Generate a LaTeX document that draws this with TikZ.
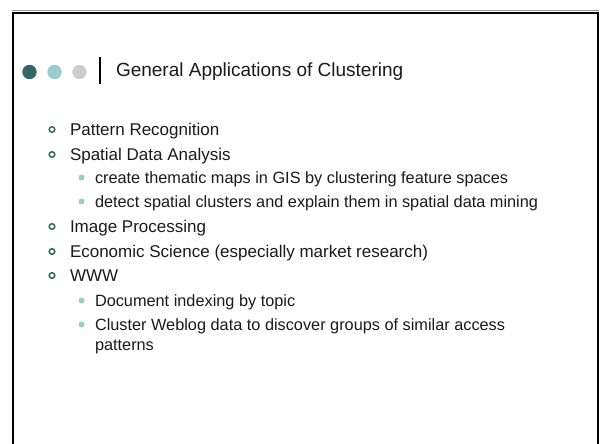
\documentclass[tikz,border=0pt]{standalone}
\usepackage{fontspec}
\setmainfont{Liberation Sans}
\definecolor{darkteal}{HTML}{336666}
\definecolor{lightteal}{HTML}{99CCCC}
\definecolor{lightgray2}{HTML}{CCCCCC}
\definecolor{framegray}{HTML}{999999}
\definecolor{bodytext}{HTML}{1A1A1A}
\begin{document}
\begin{tikzpicture}[x=1pt,y=-1pt,
  txt/.style={anchor=base west,inner sep=0pt,outer sep=0pt,text=bodytext},
  lvlone/.style={txt,font=\fontsize{17}{20}\selectfont},
  lvltwo/.style={txt,font=\fontsize{16.3}{20}\selectfont,align=left},
  hollowbullet/.style={draw=darkteal,line width=1.5pt,fill=none},
  fillbullet/.style={fill=lightteal,draw=none}]
\useasboundingbox (0,0) rectangle (602,444);
% frame
\draw[framegray,line width=1pt] (12,11) -- (599,11);
\draw[black,line width=2.5pt] (13,444) -- (13,13.2) -- (598,13.2) -- (598,444);
% title dots and bar
\fill[darkteal] (29.5,72) circle (7.2);
\fill[lightteal] (54.5,72) circle (7.2);
\fill[lightgray2] (79.5,72) circle (7.2);
\draw[black,line width=2pt] (100,57) -- (100,84);
\node[txt,font=\fontsize{19}{22}\selectfont] (title) at (116,77) {General Applications of Clustering};
% level one items
\foreach \name/\yy/\t in {pr/135/Pattern Recognition,sda/160/Spatial Data Analysis,ip/232/Image Processing,es/257/Economic Science (especially market research),www/281/WWW}{
  \draw[hollowbullet] (52,\yy-5.5) circle (2.8);
  \node[lvlone] (\name) at (70,\yy) {\t};
}
% level two items
\foreach \name/\yy/\t in {cm/183/create thematic maps in GIS by clustering feature spaces,dc/207/detect spatial clusters and explain them in spatial data mining,di/306/Document indexing by topic}{
  \fill[fillbullet] (81.5,\yy-5.5) circle (3);
  \node[lvltwo] (\name) at (95,\yy) {\t};
}
\fill[fillbullet] (81.5,330-5.5) circle (3);
\node[lvltwo] (cw) at (95,330) {Cluster Weblog data to discover groups of similar access};
\node[lvltwo] (cw2) at (95,350) {patterns};
\end{tikzpicture}
\end{document}
